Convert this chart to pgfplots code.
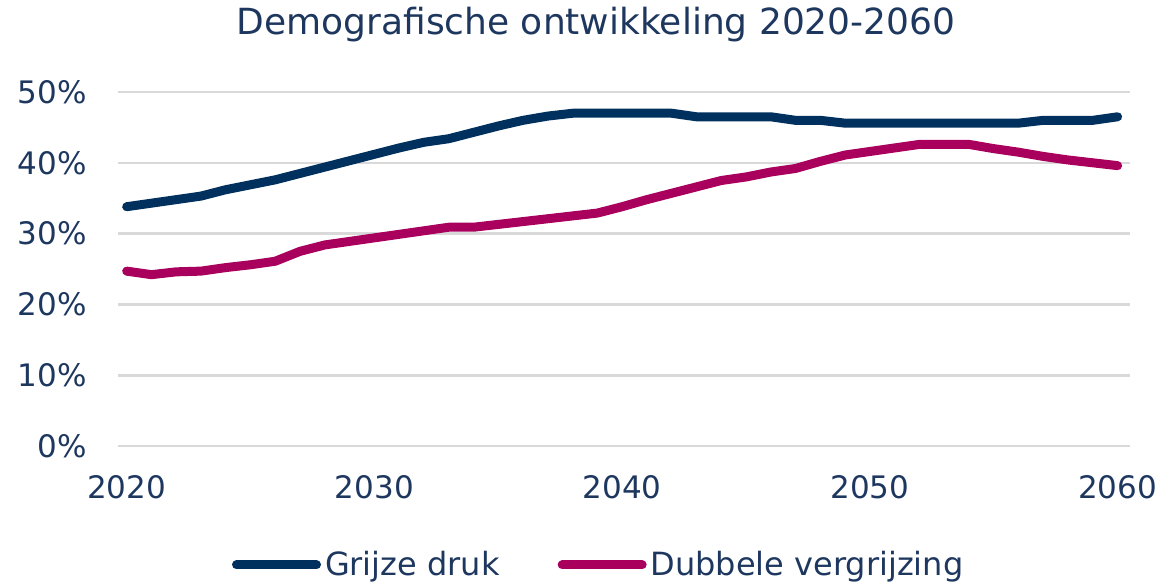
\documentclass[border=0pt]{standalone}
\usepackage{pgfplots}
\pgfplotsset{compat=1.18}
\usepackage{pgfplotstable}
\usepackage{fontspec}
\setmainfont{DejaVu Sans}
\definecolor{navyline}{RGB}{0,48,94}
\definecolor{magline}{RGB}{168,0,92}
\definecolor{txt}{RGB}{30,55,95}
\definecolor{gridc}{RGB}{217,217,217}

\pgfplotstableread{
year grijs dubbel
2020 33.8 24.7
2021 34.3 24.2
2022 34.8 24.6
2023 35.3 24.7
2024 36.2 25.2
2025 36.9 25.6
2026 37.6 26.1
2027 38.5 27.5
2028 39.4 28.4
2029 40.3 28.9
2030 41.2 29.4
2031 42.1 29.9
2032 42.9 30.4
2033 43.4 30.9
2034 44.3 30.9
2035 45.2 31.3
2036 46.0 31.7
2037 46.6 32.1
2038 47.0 32.5
2039 47.0 32.9
2040 47.0 33.8
2041 47.0 34.8
2042 47.0 35.7
2043 46.5 36.6
2044 46.5 37.5
2045 46.5 38.0
2046 46.5 38.7
2047 46.0 39.2
2048 46.0 40.2
2049 45.6 41.1
2050 45.6 41.6
2051 45.6 42.1
2052 45.6 42.6
2053 45.6 42.6
2054 45.6 42.6
2055 45.6 42.0
2056 45.6 41.5
2057 46.0 40.9
2058 46.0 40.4
2059 46.0 40.0
2060 46.5 39.6
}\datatable

\begin{document}
\begin{tikzpicture}
\useasboundingbox (-59pt,-68.5pt) rectangle (523.5pt,223pt);
\begin{axis}[
  at={(0,0)}, anchor=south west,
  scale only axis, width=506pt, height=177pt,
  xmin=2019.65, xmax=2060.5,
  ymin=0, ymax=50,
  axis line style={draw=none},
  xtick={2020,2030,2040,2050,2060},
  ytick={0,10,20,30,40,50},
  major tick length=0pt,
  ymajorgrids, grid style={gridc, line width=1.3pt},
  /pgf/number format/assume math mode=true,
  xticklabel={\pgfmathprintnumber[1000 sep={}]{\tick}},
  yticklabel={\pgfmathprintnumber{\tick}\%},
  ticklabel style={font=\fontsize{15.5}{18}\selectfont, text=txt},
  xticklabel style={anchor=north, inner sep=0pt, yshift=-14.5pt},
  yticklabel style={anchor=east, inner sep=0pt, xshift=-15.5pt},
  legend columns=2,
  legend style={at={(0.476,-0.336)}, anchor=center, draw=none, fill=none,
    font=\fontsize{16}{19}\selectfont, text=txt,
    /tikz/every even column/.append style={column sep=27pt}},
  legend image code/.code={\draw[#1, line cap=round] (0pt,0pt) -- (40pt,0pt);},
  clip=false,
]
\addplot[navyline, line width=4.5pt, line cap=round, line join=round] table[x=year, y=grijs] {\datatable};
\addlegendentry{Grijze druk}
\addplot[magline, line width=4.5pt, line cap=round, line join=round] table[x=year, y=dubbel] {\datatable};
\addlegendentry{Dubbele vergrijzing}
\end{axis}
\node[text=txt, font=\fontsize{18}{21}\selectfont] at (239pt,210.5pt) {Demografische ontwikkeling 2020-2060};
\end{tikzpicture}
\end{document}
